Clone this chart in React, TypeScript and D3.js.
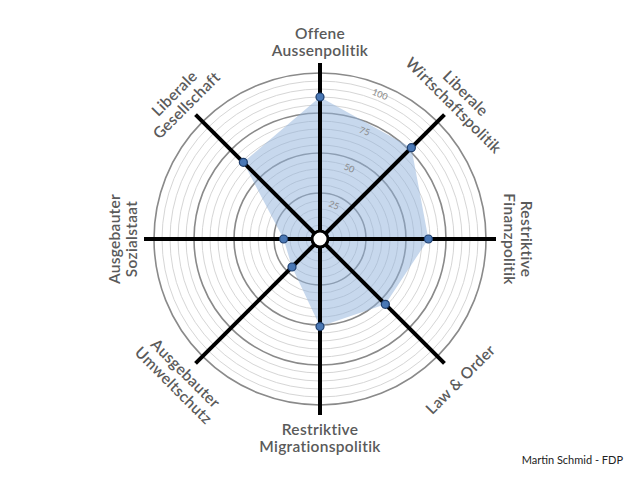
import React from "react";
import * as d3 from "d3";

const axes: string[][] = [
  ["Offene", "Aussenpolitik"],
  ["Liberale", "Wirtschaftspolitik"],
  ["Restriktive", "Finanzpolitik"],
  ["Law & Order"],
  ["Restriktive", "Migrationspolitik"],
  ["Ausgebauter", "Umweltschutz"],
  ["Ausgebauter", "Sozialstaat"],
  ["Liberale", "Gesellschaft"],
];
const values: number[] = [85, 77, 64, 54, 51, 21, 19, 64];
const majorTicks: number[] = [25, 50, 75, 100];
const minorTicks: number[] = d3.range(5, 100, 5).filter((v) => v % 25 !== 0);
const footer = "Martin Schmid - FDP";

const W = 640;
const H = 480;
const cx = 320;
const cy = 239;
const font = "Lato, 'Open Sans', sans-serif";

export default function App() {
  const r = d3.scaleLinear().domain([0, 100]).range([6, 166]);
  const angle = d3
    .scaleLinear()
    .domain([0, axes.length])
    .range([0, 2 * Math.PI]);
  const axisLen = 176;
  const labelR = 198;

  const pt = (i: number, rad: number): [number, number] => {
    const a = angle(i);
    return [cx + rad * Math.sin(a), cy - rad * Math.cos(a)];
  };

  const line = d3
    .lineRadial<number>()
    .angle((_, i) => angle(i))
    .radius((d) => r(d))
    .curve(d3.curveLinearClosed);

  const tickAngle = Math.PI / 8;

  return (
    <svg
      width={W}
      height={H}
      style={{ position: "absolute", left: 0, top: 0, background: "#fff" }}
    >
      <rect width={W} height={H} fill="#fff" />
      {minorTicks.map((t) => (
        <circle
          key={"mi" + t}
          cx={cx}
          cy={cy}
          r={r(t)}
          fill="none"
          stroke="#d6d6d6"
          strokeWidth={1}
        />
      ))}
      {majorTicks.map((t) => (
        <circle
          key={"ma" + t}
          cx={cx}
          cy={cy}
          r={r(t)}
          fill="none"
          stroke="#8a8a8a"
          strokeWidth={1.6}
        />
      ))}
      <path
        d={line(values) || ""}
        transform={`translate(${cx},${cy})`}
        fill="#8fb1dc"
        fillOpacity={0.5}
        stroke="none"
      />
      {majorTicks.map((t) => {
        const rr = r(t) - 9;
        const x = cx + rr * Math.sin(tickAngle);
        const y = cy - rr * Math.cos(tickAngle);
        return (
          <text
            key={"tl" + t}
            x={x}
            y={y}
            transform={`rotate(22.5 ${x} ${y})`}
            textAnchor="middle"
            dominantBaseline="central"
            fontFamily={font}
            fontSize={9}
            fill="#8a8a8a"
          >
            {t}
          </text>
        );
      })}
      {axes.map((_, i) => {
        const [x, y] = pt(i, axisLen);
        return (
          <line
            key={"ax" + i}
            x1={cx}
            y1={cy}
            x2={x}
            y2={y}
            stroke="#000"
            strokeWidth={4}
          />
        );
      })}
      <circle cx={cx} cy={cy} r={8} fill="#fff" stroke="#000" strokeWidth={3} />
      {values.map((v, i) => {
        const [x, y] = pt(i, r(v));
        return (
          <circle
            key={"pt" + i}
            cx={x}
            cy={y}
            r={4}
            fill="#4a78b5"
            stroke="#1f3f6e"
            strokeWidth={1.2}
          />
        );
      })}
      {axes.map((lines, i) => {
        const deg = (angle(i) * 180) / Math.PI;
        const bottom = deg > 90 && deg < 270;
        const rot = bottom ? deg - 180 : deg > 180 ? deg - 360 : deg;
        const [x, y] = pt(i, labelR);
        const lh = 17;
        return (
          <g key={"lb" + i} transform={`translate(${x},${y}) rotate(${rot})`}>
            {lines.map((s, j) => (
              <text
                key={j}
                x={0}
                y={(j - (lines.length - 1) / 2) * lh}
                textAnchor="middle"
                dominantBaseline="central"
                fontFamily={font}
                fontSize={15.5}
                fontWeight={600}
                letterSpacing={0.3}
                fill="#5a5a5a"
              >
                {s}
              </text>
            ))}
          </g>
        );
      })}
      <text
        x={623}
        y={459}
        textAnchor="end"
        dominantBaseline="central"
        fontFamily={font}
        fontSize={11}
        fill="#222"
      >
        {footer}
      </text>
    </svg>
  );
}
